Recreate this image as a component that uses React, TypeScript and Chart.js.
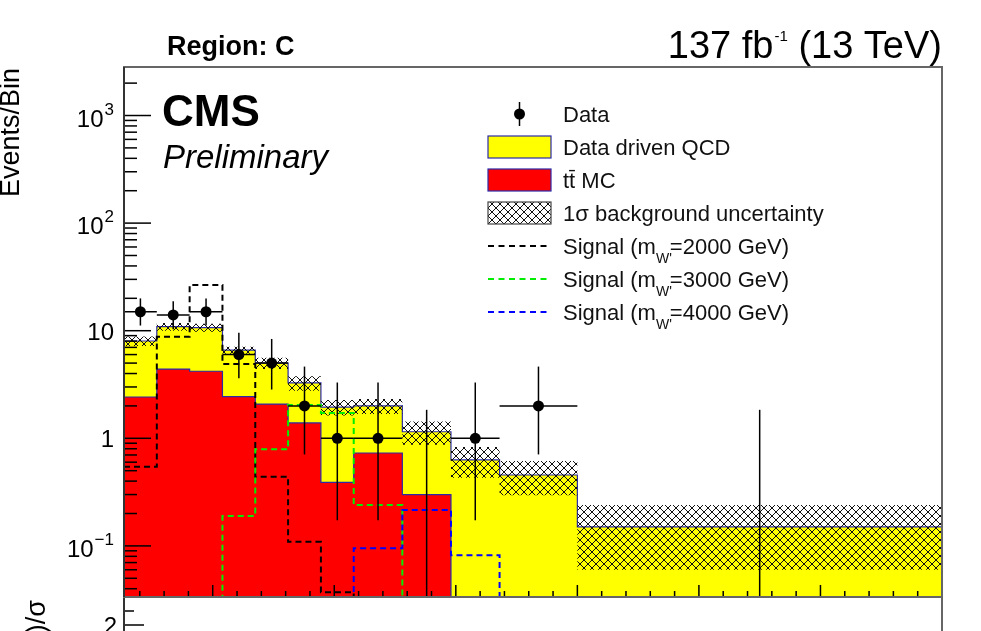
import React, { useEffect, useRef } from "react";
import { Chart, registerables } from "chart.js";

Chart.register(...registerables);

// Bin edges of the reconstructed mass (GeV)
const binEdges = [270, 540, 810, 1080, 1350, 1620, 1890, 2160, 2560, 2960, 3360, 4000, 7000];

// Background yields per bin (stacked: QCD on top of ttbar)
const qcdYields = [5.6, 6.5, 6.5, 4.16, 2.92, 1.88, 1.56, 1.27, 0.85, 0.63, 0.456, 0.15];
const ttbarYields = [2.42, 4.4, 4.2, 2.44, 2.08, 1.39, 0.39, 0.73, 0.3, 0, 0, 0];
// Absolute 1 sigma uncertainty on the total background
const bkgUncertainty = [0.8, 0.9, 0.9, 0.5, 0.6, 0.5, 0.32, 0.32, 0.28, 0.2, 0.16, 0.09];

// Signal templates
const signal2000 = [0.545, 8.8, 26.6, 4.9, 0.44, 0.109, 0.037, 0, 0, 0, 0, 0];
const signal3000 = [0, 0, 0, 0.19, 0.79, 2.04, 1.72, 0.24, 0, 0, 0, 0];
const signal4000 = [0, 0, 0, 0, 0, 0, 0, 0.095, 0.216, 0.082, 0, 0];

// Observed counts and their 68% Poisson intervals
const dataCounts = [15, 14, 15, 6, 5, 2, 1, 1, 0, 1, 2, 0];
const dataLowEdge = [11.17, 10.32, 11.17, 3.62, 2.84, 0.708, 0.173, 0.173, 0, 0.173, 0.708, 0];
const dataHighEdge = [19.96, 18.83, 19.96, 9.58, 8.38, 4.64, 3.3, 3.3, 1.84, 3.3, 4.64, 1.84];

// Axis ranges and ticks
const X_MIN = 270;
const X_MAX = 7000;
const X_MAJOR_STEP = 1000;
const X_MINOR_STEP = 200;
const Y_MIN = 0.0335;
const Y_MAX = 2824;
const yLabelDecades = [-1, 0, 1, 2, 3];
const PULL_MIN = -3;
const PULL_MAX = 3;
const pullLabelTicks = [-2, -1, 0, 1, 2];

const legendLabels = [
  "Data",
  "Data driven QCD",
  "tt\u0304 MC",
  "1\u03c3 background uncertainty",
  "2000",
  "3000",
  "4000",
];

const FONT = '"Liberation Sans", Arial, Helvetica, sans-serif';
const OUTLINE = "#2a2aa8";
const MARKER_R = 5.5;

function stepPoints(vals: number[]) {
  const floor = Y_MIN / 100;
  const pts = vals.map((v, i) => ({ x: binEdges[i], y: v > 0 ? v : floor }));
  pts.push({ x: binEdges[binEdges.length - 1], y: pts[pts.length - 1].y });
  return pts;
}

function makeHatch(): CanvasPattern | string {
  const c = document.createElement("canvas");
  c.width = 8;
  c.height = 8;
  const g = c.getContext("2d");
  if (!g) return "rgba(0,0,0,0.3)";
  g.strokeStyle = "#111";
  g.lineWidth = 1;
  g.beginPath();
  for (const dx of [-8, 0, 8]) {
    g.moveTo(dx, 0);
    g.lineTo(dx + 8, 8);
    g.moveTo(dx + 8, 0);
    g.lineTo(dx, 8);
  }
  g.stroke();
  return g.createPattern(c, "repeat") || "rgba(0,0,0,0.3)";
}

function line(ctx: CanvasRenderingContext2D, x1: number, y1: number, x2: number, y2: number) {
  ctx.beginPath();
  ctx.moveTo(x1, y1);
  ctx.lineTo(x2, y2);
  ctx.stroke();
}

// Observed data: markers with horizontal bin-width bars and vertical Poisson bars
const dataPointsPlugin = {
  id: "dataPoints",
  afterDatasetsDraw(chart: any) {
    const { ctx, chartArea: a, scales } = chart;
    const x = scales.x;
    const y = scales.y;
    ctx.save();
    ctx.beginPath();
    ctx.rect(a.left, a.top, a.right - a.left, a.bottom - a.top);
    ctx.clip();
    ctx.strokeStyle = "#000";
    ctx.fillStyle = "#000";
    ctx.lineWidth = 1.5;
    dataCounts.forEach((n, i) => {
      const cx = x.getPixelForValue((binEdges[i] + binEdges[i + 1]) / 2);
      const yLo = dataLowEdge[i] > 0 ? y.getPixelForValue(dataLowEdge[i]) : a.bottom + 5;
      const yHi = y.getPixelForValue(dataHighEdge[i]);
      line(ctx, cx, yLo, cx, yHi);
      if (n > 0) {
        const cy = y.getPixelForValue(n);
        line(ctx, x.getPixelForValue(binEdges[i]), cy, x.getPixelForValue(binEdges[i + 1]), cy);
        ctx.beginPath();
        ctx.arc(cx, cy, MARKER_R, 0, Math.PI * 2);
        ctx.fill();
      }
    });
    ctx.restore();
  },
};

function drawSuperLabel(
  ctx: CanvasRenderingContext2D,
  base: string,
  sup: string,
  right: number,
  baseline: number,
  size: number,
  supSize: number
) {
  ctx.textAlign = "left";
  ctx.font = `${supSize}px ${FONT}`;
  const supW = sup ? ctx.measureText(sup).width : 0;
  ctx.font = `${size}px ${FONT}`;
  const baseW = ctx.measureText(base).width;
  const x0 = right - supW - baseW - (sup ? 1 : 0);
  ctx.fillText(base, x0, baseline);
  if (sup) {
    ctx.font = `${supSize}px ${FONT}`;
    ctx.fillText(sup, x0 + baseW + 1, baseline - 12);
  }
}

// Frame, inward ticks, tick labels, titles and legend
const mainDecorPlugin = {
  id: "mainDecor",
  afterDraw(chart: any) {
    const { ctx, chartArea: a, scales } = chart;
    const x = scales.x;
    const y = scales.y;
    ctx.save();

    // y ticks (log)
    ctx.strokeStyle = "#000";
    ctx.lineWidth = 1.5;
    for (let d = -3; d <= 4; d++) {
      for (let k = 1; k <= 9; k++) {
        const v = k * Math.pow(10, d);
        if (v < Y_MIN || v > Y_MAX) continue;
        const py = y.getPixelForValue(v);
        line(ctx, a.left, py, a.left + (k === 1 ? 27 : 13), py);
      }
    }
    // x ticks
    for (let v = X_MIN; v <= X_MAX; v += 1) {
      if (v % X_MINOR_STEP !== 0) continue;
      const px = x.getPixelForValue(v);
      const major = v % X_MAJOR_STEP === 0;
      line(ctx, px, a.bottom, px, a.bottom - (major ? 12 : 6));
    }

    // frame
    ctx.strokeStyle = "#666";
    ctx.lineWidth = 2;
    ctx.strokeRect(a.left, a.top, a.right - a.left, a.bottom - a.top);
    ctx.strokeStyle = "#333";
    line(ctx, a.left, a.top, a.left, a.bottom);

    // y tick labels
    ctx.fillStyle = "#000";
    ctx.textBaseline = "alphabetic";
    yLabelDecades.forEach((d) => {
      const py = y.getPixelForValue(Math.pow(10, d));
      if (d === 0) drawSuperLabel(ctx, "1", "", 114, py + 9, 24, 17);
      else if (d === 1) drawSuperLabel(ctx, "10", "", 114, py + 9, 24, 17);
      else drawSuperLabel(ctx, "10", d < 0 ? "\u2212" + Math.abs(d) : String(d), 114, py + 11, 24, 17);
    });

    // y axis title
    ctx.save();
    ctx.translate(19, a.top + 1);
    ctx.rotate(-Math.PI / 2);
    ctx.textAlign = "right";
    ctx.font = `27px ${FONT}`;
    ctx.fillText("Events/Bin", 0, 0);
    ctx.restore();

    // header texts
    ctx.textAlign = "left";
    ctx.font = `bold 27px ${FONT}`;
    ctx.fillText("Region: C", 167, 55);

    const lumiA = "137 fb";
    const lumiSup = "-1";
    const lumiB = " (13 TeV)";
    ctx.font = `38px ${FONT}`;
    const wA = ctx.measureText(lumiA).width;
    const wB = ctx.measureText(lumiB).width;
    ctx.font = `15px ${FONT}`;
    const wS = ctx.measureText(lumiSup).width;
    const lx = a.right - wA - wS - wB - 1;
    ctx.font = `38px ${FONT}`;
    ctx.fillText(lumiA, lx, 58);
    ctx.font = `15px ${FONT}`;
    ctx.fillText(lumiSup, lx + wA + 1, 41);
    ctx.font = `38px ${FONT}`;
    ctx.fillText(lumiB, lx + wA + wS + 1, 58);

    ctx.font = `bold 44px ${FONT}`;
    ctx.fillText("CMS", 162, 126);
    ctx.font = `italic 33px ${FONT}`;
    ctx.fillText("Preliminary", 163, 168);

    // legend
    const boxL = 488;
    const boxR = 551;
    const textX = 563;
    const row0 = 114;
    const rowStep = 33;
    const hatch = makeHatch();
    const sigColors = ["#000000", "#00ee00", "#0000ff"];
    legendLabels.forEach((label, i) => {
      const cy = row0 + i * rowStep;
      ctx.lineWidth = 1.5;
      ctx.setLineDash([]);
      if (i === 0) {
        ctx.strokeStyle = "#000";
        line(ctx, (boxL + boxR) / 2, cy - 12, (boxL + boxR) / 2, cy + 12);
        ctx.beginPath();
        ctx.arc((boxL + boxR) / 2, cy, MARKER_R, 0, Math.PI * 2);
        ctx.fillStyle = "#000";
        ctx.fill();
      } else if (i === 1 || i === 2 || i === 3) {
        ctx.fillStyle = i === 1 ? "#ffff00" : i === 2 ? "#ff0000" : "#ffffff";
        ctx.fillRect(boxL, cy - 11, boxR - boxL, 22);
        if (i === 3) {
          ctx.fillStyle = hatch as any;
          ctx.fillRect(boxL, cy - 11, boxR - boxL, 22);
        }
        ctx.strokeStyle = i === 3 ? "#444" : OUTLINE;
        ctx.lineWidth = 1.2;
        ctx.strokeRect(boxL, cy - 11, boxR - boxL, 22);
      } else {
        ctx.strokeStyle = sigColors[i - 4];
        ctx.lineWidth = 2;
        ctx.setLineDash([6, 4.5]);
        line(ctx, boxL, cy, boxR, cy);
        ctx.setLineDash([]);
      }
      ctx.fillStyle = "#111";
      ctx.textAlign = "left";
      ctx.font = `22px ${FONT}`;
      const base = cy + 8;
      if (i < 4) {
        ctx.fillText(label, textX, base);
      } else {
        const pre = "Signal (m";
        const post = `=${label} GeV)`;
        ctx.fillText(pre, textX, base);
        const wPre = ctx.measureText(pre).width;
        ctx.font = `14px ${FONT}`;
        ctx.fillText("W'", textX + wPre, base + 9);
        const wSub = ctx.measureText("W'").width;
        ctx.font = `22px ${FONT}`;
        ctx.fillText(post, textX + wPre + wSub - 2, base);
      }
    });

    ctx.restore();
  },
};

// Lower pull panel: frame, ticks and title
const pullDecorPlugin = {
  id: "pullDecor",
  afterDraw(chart: any) {
    const { ctx, chartArea: a, scales } = chart;
    const y = scales.y;
    ctx.save();
    ctx.strokeStyle = "#000";
    ctx.lineWidth = 1.5;
    for (let v = PULL_MIN * 2; v <= PULL_MAX * 2; v++) {
      const val = v / 2;
      const py = y.getPixelForValue(val);
      line(ctx, a.left, py, a.left + (v % 2 === 0 ? 20 : 10), py);
    }
    ctx.strokeStyle = "#666";
    ctx.lineWidth = 2;
    ctx.strokeRect(a.left, a.top, a.right - a.left, a.bottom - a.top);
    ctx.strokeStyle = "#333";
    line(ctx, a.left, a.top, a.left, a.bottom);

    ctx.fillStyle = "#000";
    ctx.textAlign = "right";
    ctx.font = `24px ${FONT}`;
    pullLabelTicks.forEach((t) => {
      const py = y.getPixelForValue(t);
      ctx.fillText(String(t), 117, py + 9);
    });

    ctx.save();
    ctx.translate(45, a.top + 3);
    ctx.rotate(-Math.PI / 2);
    ctx.textAlign = "right";
    ctx.font = `27px ${FONT}`;
    ctx.fillText("(Data-Bkg)/\u03c3", 0, 0);
    ctx.restore();
    ctx.restore();
  },
};

function mainConfig(): any {
  const total = qcdYields.map((q, i) => q + ttbarYields[i]);
  const bandHi = total.map((t, i) => t + bkgUncertainty[i]);
  const bandLo = total.map((t, i) => Math.max(t - bkgUncertainty[i], 0));
  const hatch = makeHatch();
  const common = { stepped: true, pointRadius: 0, tension: 0, clip: 0 };
  return {
    type: "line",
    data: {
      datasets: [
        { ...common, label: "QCD", data: stepPoints(total), backgroundColor: "#ffff00", borderColor: OUTLINE, borderWidth: 1.2, fill: "start", order: 10 },
        { ...common, label: "ttbar", data: stepPoints(ttbarYields), backgroundColor: "#ff0000", borderColor: OUTLINE, borderWidth: 1.2, fill: "start", order: 9 },
        { ...common, label: "bandHi", data: stepPoints(bandHi), borderWidth: 0, borderColor: "rgba(0,0,0,0)", fill: false, order: 8 },
        { ...common, label: "bandLo", data: stepPoints(bandLo), borderWidth: 0, borderColor: "rgba(0,0,0,0)", backgroundColor: hatch, fill: 2, order: 7 },
        { ...common, label: "sig2000", data: stepPoints(signal2000), borderColor: "#000000", borderWidth: 2, borderDash: [6, 4], fill: false, order: 6 },
        { ...common, label: "sig3000", data: stepPoints(signal3000), borderColor: "#00ee00", borderWidth: 2, borderDash: [6, 4], fill: false, order: 5 },
        { ...common, label: "sig4000", data: stepPoints(signal4000), borderColor: "#0000ff", borderWidth: 2, borderDash: [6, 4], fill: false, order: 4 },
      ],
    },
    options: {
      responsive: false,
      animation: false,
      events: [],
      layout: { padding: { left: 124, right: 39, top: 67, bottom: 34 } },
      scales: {
        x: { type: "linear", min: X_MIN, max: X_MAX, display: false },
        y: { type: "logarithmic", min: Y_MIN, max: Y_MAX, display: false },
      },
      plugins: { legend: { display: false }, tooltip: { enabled: false } },
    },
    plugins: [dataPointsPlugin, mainDecorPlugin],
  };
}

function pullConfig(): any {
  return {
    type: "line",
    data: { datasets: [] },
    options: {
      responsive: false,
      animation: false,
      events: [],
      layout: { padding: { left: 124, right: 39, top: 37, bottom: 55 } },
      scales: {
        x: { type: "linear", min: X_MIN, max: X_MAX, display: false },
        y: { type: "linear", min: PULL_MIN, max: PULL_MAX, display: false },
      },
      plugins: { legend: { display: false }, tooltip: { enabled: false } },
    },
    plugins: [pullDecorPlugin],
  };
}

export default function App() {
  const mainRef = useRef<HTMLCanvasElement>(null);
  const pullRef = useRef<HTMLCanvasElement>(null);

  useEffect(() => {
    if (!mainRef.current || !pullRef.current) return;
    const pull = new Chart(pullRef.current, pullConfig());
    const main = new Chart(mainRef.current, mainConfig());
    return () => {
      main.destroy();
      pull.destroy();
    };
  }, []);

  return (
    <div
      style={{
        position: "absolute",
        left: 0,
        top: 0,
        width: 981,
        height: 631,
        overflow: "hidden",
        background: "#ffffff",
      }}
    >
      <canvas
        ref={pullRef}
        width={981}
        height={260}
        style={{ position: "absolute", left: 0, top: 560, display: "block" }}
      />
      <canvas
        ref={mainRef}
        width={981}
        height={631}
        style={{ position: "absolute", left: 0, top: 0, display: "block" }}
      />
    </div>
  );
}
